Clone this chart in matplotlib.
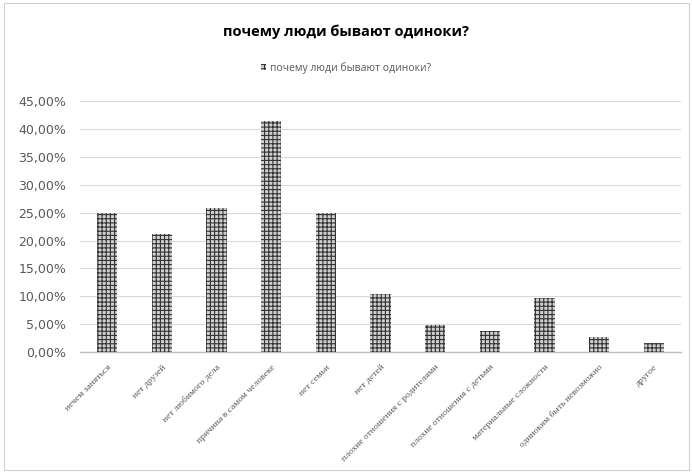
import matplotlib.pyplot as plt
from matplotlib.patches import Rectangle, Patch
from matplotlib.ticker import FuncFormatter

# категории и доли ответов
categories = [
    'нечем заняться', 'нет друзей', 'нет любимого дела',
    'причина в самом человеке', 'нет семьи', 'нет детей',
    'плохие отношения с родителями', 'плохие отношения с детьми',
    'материальные сложности', 'одиноким быть невозможно', 'другое',
]
values = [0.250, 0.211, 0.259, 0.415, 0.250, 0.104, 0.048, 0.038, 0.097, 0.027, 0.016]
series_name = 'почему люди бывают одиноки?'

plt.rcParams['hatch.linewidth'] = 0.8
plt.rcParams['hatch.color'] = '#333333'

fig = plt.figure(figsize=(6.92, 4.72), dpi=100)
fig.patches.append(Rectangle((0.006, 0.004), 0.99, 0.99, transform=fig.transFigure,
                             fill=False, edgecolor='#d0d0d0', linewidth=0.8))
ax = fig.add_axes([0.1156, 0.254, 0.8685, 0.532])

x = range(len(categories))
ax.bar(x, values, width=0.37, color='#d0d0d0', edgecolor='#333333',
       hatch='++++', linewidth=0, zorder=3)

ax.set_ylim(0, 0.45)
ax.set_xlim(-0.5, len(categories) - 0.5)
ax.set_yticks([i * 0.05 for i in range(10)])
ax.yaxis.set_major_formatter(FuncFormatter(lambda v, p: f'{v * 100:.2f}%'.replace('.', ',')))
ax.tick_params(axis='y', length=0, labelsize=9, labelcolor='#595959', pad=10)
ax.grid(axis='y', color='#d9d9d9', linewidth=0.8, zorder=0)
for s in ['left', 'right', 'top']:
    ax.spines[s].set_visible(False)
ax.spines['bottom'].set_color('#bfbfbf')
ax.spines['bottom'].set_linewidth(1.0)

ax.set_xticks(list(x))
ax.set_xticklabels(categories, rotation=45, ha='right', rotation_mode='anchor',
                   fontsize=6.8, family='Liberation Serif', color='#595959')
ax.tick_params(axis='x', length=0, pad=8)

fig.text(0.5, 0.932, series_name, ha='center', va='center', fontsize=10.5,
         fontweight='bold', family='Open Sans', color='black')
handle = Patch(facecolor='#d0d0d0', edgecolor='#333333', hatch='++++', linewidth=0)
fig.legend([handle], [series_name], loc='center', bbox_to_anchor=(0.5, 0.856),
           frameon=False, labelcolor='#595959',
           handlelength=0.5, handleheight=0.5, handletextpad=0.4,
           prop={'family': 'Open Sans', 'size': 7.5})

fig.savefig('out.png', dpi=100)
